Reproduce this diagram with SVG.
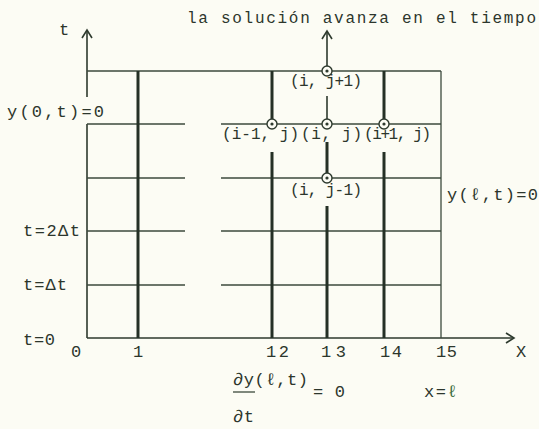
<svg xmlns="http://www.w3.org/2000/svg" width="539" height="429" viewBox="0 0 539 429">
<defs>
<style>
.bg{fill:#fcfcf4}
.thin{stroke:#3c4a3c;stroke-width:1.3;fill:none}
.thick{stroke:#253025;stroke-width:3;fill:none}
.mid{stroke:#2e3a2e;stroke-width:1.6;fill:none}
.txt{font-family:"Liberation Mono","DejaVu Sans Mono",monospace;fill:#2c362c;font-size:16px}
.big{font-size:17px}
.node circle.o{fill:#fcfcf4;stroke:#2e3a2e;stroke-width:1.4}
.node circle.d{fill:#2e3a2e}
.green{fill:#3c6e3c}
</style>
</defs>
<rect class="bg" x="0" y="0" width="539" height="429"/>
<g id="connectors">
<path class="mid" d="M87,30 V97 M87,124 V338"/>
<path class="mid" d="M82,38 L87,30 L92,38"/>
<path class="mid" d="M87,338 H514"/>
<path class="mid" d="M506,333 L514,338 L506,343"/>
<path class="thin" d="M87,71 H441"/>
<path class="thin" d="M87,124 H185 M221,124 H441 M87,178 H185 M221,178 H441 M87,231 H185 M221,231 H441 M87,285 H185 M221,285 H441"/>
<path class="thin" d="M441,71 V338"/>
<path class="thick" d="M138,71 V338"/>
<path class="thick" d="M272,71 V120 M272,152 V338"/>
<path class="mid" d="M327,32 V67 M327,96 V120"/>
<path class="mid" d="M322,39 L327,31 L332,39"/>
<path class="thick" d="M327,142 V174 M327,206 V338"/>
<path class="thick" d="M384,71 V120 M384,152 V338"/>
</g>
<g id="node-i-jp1" class="node"><circle class="o" cx="327" cy="71" r="5"/><circle class="d" cx="327" cy="71" r="1.6"/><text class="txt" x="290" y="86" textLength="72" lengthAdjust="spacing">(i, j+1)</text></g>
<g id="node-im1-j" class="node"><circle class="o" cx="272" cy="124" r="5"/><circle class="d" cx="272" cy="124" r="1.6"/><text class="txt" x="222" y="139" textLength="77" lengthAdjust="spacing">(i-1, j)</text></g>
<g id="node-i-j" class="node"><circle class="o" cx="327" cy="124" r="5"/><circle class="d" cx="327" cy="124" r="1.6"/><text class="txt" x="301" y="139" textLength="61" lengthAdjust="spacing">(i, j)</text></g>
<g id="node-ip1-j" class="node"><circle class="o" cx="384" cy="124" r="5"/><circle class="d" cx="384" cy="124" r="1.6"/><text class="txt" x="364" y="139" textLength="67" lengthAdjust="spacing">(i+1, j)</text></g>
<g id="node-i-jm1" class="node"><circle class="o" cx="327" cy="178" r="5"/><circle class="d" cx="327" cy="178" r="1.6"/><text class="txt" x="290" y="195" textLength="72" lengthAdjust="spacing">(i, j-1)</text></g>
<g id="labels">
<text class="txt" x="187" y="23" textLength="349" lengthAdjust="spacing">la solución avanza en el tiempo</text>
<text class="txt big" x="59" y="35">t</text>
<text class="txt big" x="7" y="117" textLength="97" lengthAdjust="spacing">y(0,t)=0</text>
<text class="txt big" x="447" y="200" textLength="91" lengthAdjust="spacing">y(ℓ,t)=0</text>
<text class="txt big" x="23" y="236" textLength="57" lengthAdjust="spacing">t=2Δt</text>
<text class="txt big" x="23" y="290" textLength="44" lengthAdjust="spacing">t=Δt</text>
<text class="txt big" x="23" y="345" textLength="32" lengthAdjust="spacing">t=0</text>
<text class="txt big" x="71" y="357">0</text>
<text class="txt big" x="133" y="357">1</text>
<text class="txt big" x="266" y="357" textLength="23" lengthAdjust="spacing">12</text>
<text class="txt big" x="321" y="357" textLength="25" lengthAdjust="spacing">13</text>
<text class="txt big" x="380" y="357" textLength="22" lengthAdjust="spacing">14</text>
<text class="txt big" x="436" y="357" textLength="21" lengthAdjust="spacing">15</text>
<text class="txt big" x="516" y="357">X</text>
<text class="txt big" x="233" y="385" textLength="75" lengthAdjust="spacing">∂y(ℓ,t)</text>
<path class="thin" d="M233,392 H255"/>
<text class="txt big" x="233" y="422" textLength="21" lengthAdjust="spacing">∂t</text>
<text class="txt big" x="313" y="397" textLength="32" lengthAdjust="spacing">= 0</text>
<text class="txt big" x="424" y="397" textLength="22" lengthAdjust="spacing">x=</text>
<text class="txt big green" x="447" y="397">ℓ</text>
</g>
</svg>
